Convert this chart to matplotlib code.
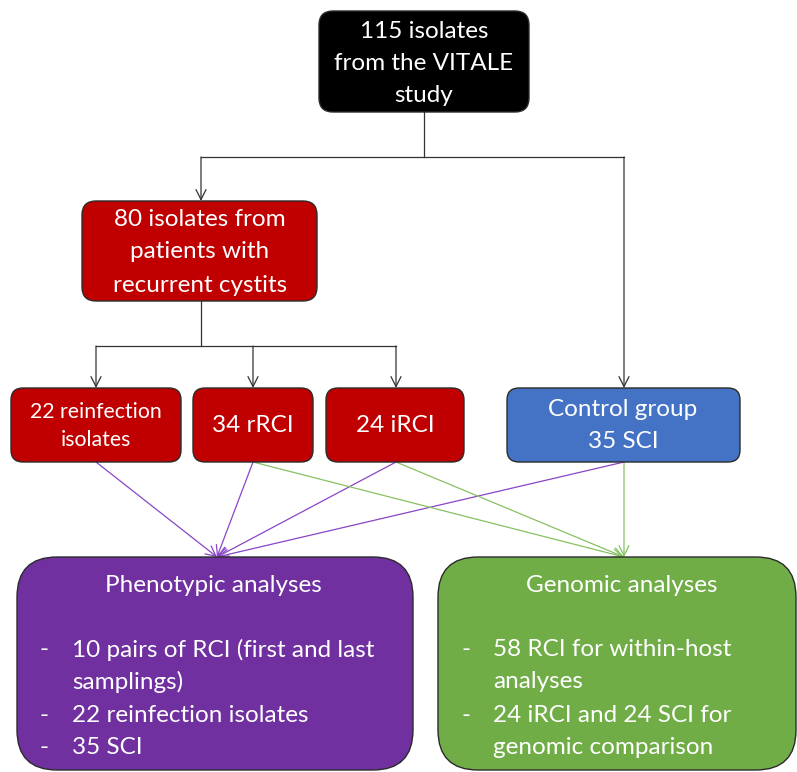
import matplotlib.pyplot as plt
from matplotlib.patches import FancyBboxPatch

plt.rcParams['font.family'] = ['Lato', 'DejaVu Sans']

# Box labels (one entry per line)
top_label = ["115 isolates", "from the VITALE", "study"]
recurrent_label = ["80 isolates from", "patients with", "recurrent cystits"]
group_labels = [["22 reinfection", "isolates"], ["34 rRCI"], ["24 iRCI"]]
control_label = ["Control group", "35 SCI"]
pheno_title = "Phenotypic analyses"
pheno_items = ["10 pairs of RCI (first and last", "samplings)", "22 reinfection isolates", "35 SCI"]
pheno_dash = [True, False, True, True]
geno_title = "Genomic analyses"
geno_items = ["58 RCI for within-host", "analyses", "24 iRCI and 24 SCI for", "genomic comparison"]
geno_dash = [True, False, True, False]

RED = "#C00000"
BLUE = "#4472C4"
PURPLE = "#7030A0"
GREEN = "#70AD47"
PURPLE_LINE = "#8a45c6"
GREEN_LINE = "#86c163"
FS = 17.5

fig = plt.figure(figsize=(7.97, 7.72), dpi=100)
ax = fig.add_axes([0, 0, 1, 1])
ax.set_xlim(0, 797)
ax.set_ylim(772, 0)
ax.axis("off")


def box(x0, y0, x1, y1, color, r):
    p = FancyBboxPatch((x0, y0), x1 - x0, y1 - y0,
                       boxstyle=f"round,pad=0,rounding_size={r}",
                       fc=color, ec="#2b2b2b", lw=1.0, zorder=2)
    ax.add_patch(p)


def lines(cx, ys, texts, size=FS):
    for y, t in zip(ys, texts):
        ax.text(cx, y, t, color="white", fontsize=size, ha="center", va="center", zorder=3)


def arrow(x0, y0, x1, y1, color="#333333", lw=0.9):
    ax.annotate("", xy=(x1, y1), xytext=(x0, y0),
                arrowprops=dict(arrowstyle="->", color=color, lw=lw,
                                mutation_scale=18, shrinkA=0, shrinkB=0),
                zorder=1)


def seg(xs, ys, color="#333333", lw=0.9):
    ax.plot(xs, ys, color=color, lw=lw, zorder=1)


# boxes
box(319, 11, 529, 112, "black", 14)
lines(424, [32, 64, 96], top_label)

box(82, 201, 317, 301, RED, 14)
lines(200, [219, 252, 285], recurrent_label)

group_boxes = [(11, 181), (193, 313), (326, 464)]
group_ys = [[412, 440], [425], [425]]
group_sizes = [15.3, FS, FS]
for (x0, x1), lab, ys, s in zip(group_boxes, group_labels, group_ys, group_sizes):
    box(x0, 388, x1, 462, RED, 12)
    lines((x0 + x1) / 2, ys, lab, size=s)

box(507, 388, 740, 462, BLUE, 12)
lines(623, [409, 442], control_label)

box(17, 557, 413, 770, PURPLE, 40)
ax.text(213, 585, pheno_title, color="white", fontsize=FS, ha="center", va="center", zorder=3)
for y, t, d in zip([650, 682, 715, 747], pheno_items, pheno_dash):
    if d:
        ax.text(40, y, "-", color="white", fontsize=FS, ha="left", va="center", zorder=3)
    ax.text(72, y, t, color="white", fontsize=FS, ha="left", va="center", zorder=3)

box(438, 557, 796, 770, GREEN, 40)
ax.text(622, 585, geno_title, color="white", fontsize=FS, ha="center", va="center", zorder=3)
for y, t, d in zip([650, 682, 715, 747], geno_items, geno_dash):
    if d:
        ax.text(462, y, "-", color="white", fontsize=FS, ha="left", va="center", zorder=3)
    ax.text(493, y, t, color="white", fontsize=FS, ha="left", va="center", zorder=3)

# connectors
seg([424, 424], [112, 157])
seg([201, 624], [157, 157])
arrow(201, 157, 201, 201)
arrow(624, 157, 624, 388)

seg([201, 201], [301, 346])
seg([96, 396], [346, 346])
for x in [96, 253, 396]:
    arrow(x, 346, x, 388)

# to analyses boxes
for x in [96, 253, 396, 624]:
    arrow(x, 462, 217, 557, color=PURPLE_LINE)
for x in [253, 396, 624]:
    arrow(x, 462, 624, 557, color=GREEN_LINE)

fig.savefig("out.png", dpi=100)
